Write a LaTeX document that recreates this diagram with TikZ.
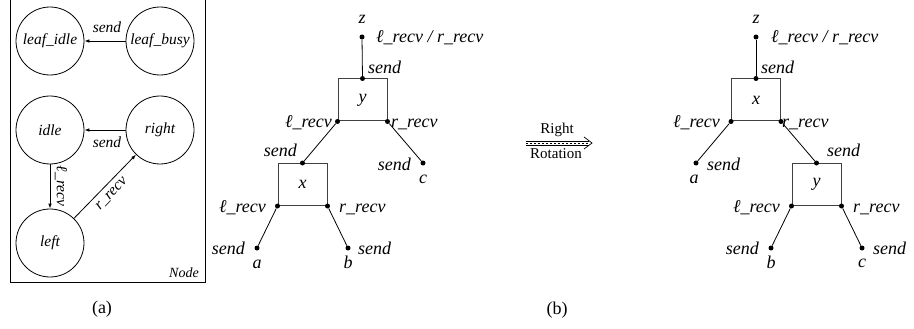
\documentclass[tikz,border=0pt]{standalone}
\usepackage{fontspec}
\setmainfont{Liberation Serif}
\usetikzlibrary{arrows.meta}

\tikzset{
  statetxt/.style={font=\fontsize{15.5}{17}\selectfont\itshape, inner sep=0pt},
  state/.style={circle, draw, line width=0.8pt, minimum size=68pt, inner sep=0pt, statetxt},
  arr/.style={line width=0.8pt, -{Latex[length=5pt,width=3.6pt]}},
  lbl/.style={font=\fontsize{18}{20}\selectfont\itshape, inner sep=0pt},
  tnode/.style={draw=black!75, line width=1pt, minimum width=49pt, minimum height=42pt,
                inner sep=0pt, lbl},
  dot/.style={circle, fill, inner sep=0pt, minimum size=5pt},
  edge/.style={line width=0.8pt},
  caption/.style={font=\fontsize{18}{20}\selectfont, inner sep=0pt},
  rot/.style={font=\fontsize{15}{17}\selectfont, inner sep=0pt},
}

\begin{document}
\begin{tikzpicture}[x=1pt, y=-1pt]
\useasboundingbox (0,0) rectangle (914,329);

% ---------- (a) state machine of a node ----------
\draw[line width=0.8pt] (10,-5) rectangle (205,282);
\node[state] (lidle) at (50,41)  {leaf\_idle};
\node[state] (lbusy) at (160,41) {leaf\_busy};
\node[state] (idle)  at (50,130) {idle};
\node[state] (right) at (160,130){right};
\node[state] (left)  at (50,243) {left};

\draw[arr] (lbusy) -- (lidle);
\draw[arr] (right) -- (idle);
\draw[arr] (idle) -- (left);
\draw[arr] (left) -- (right);

\node[statetxt, anchor=base] (s1) at (107,33) {send};
\node[statetxt, anchor=base] (s2) at (107,147) {send};
\node[statetxt, rotate=-90] (lr) at (61,186) {ℓ\_recv};
\node[statetxt, rotate=46] (rr) at (112,194) {r\_recv};
\node[statetxt, anchor=base east, font=\fontsize{14}{16}\selectfont\itshape] (nd) at (199,277) {Node};
\node[caption, anchor=base] (capa) at (102,313) {(a)};

% ---------- (b) left tree ----------
\node[lbl] (zA) at (362,19) {z};
\node[dot] (zdA) at (362,37) {};
\node[lbl, anchor=base west] (zlA) at (376,43) {ℓ\_recv / r\_recv};
\node[tnode] (yA) at (362.5,100) {y};
\node[dot] (ytA) at (yA.north) {};
\node[dot] (ylA) at (yA.south west) {};
\node[dot] (yrA) at (yA.south east) {};
\draw[edge] (zdA) -- (ytA);
\node[lbl, anchor=base west] at (368,74) {send};
\node[lbl, anchor=base east] at (332,128) {ℓ\_recv};
\node[lbl, anchor=base west] at (391,128) {r\_recv};

\node[tnode] (xA) at (302.5,184.5) {x};
\node[dot] (xtA) at (xA.north) {};
\node[dot] (xlA) at (xA.south west) {};
\node[dot] (xrA) at (xA.south east) {};
\node[dot] (cA) at (423,163) {};
\draw[edge] (ylA) -- (xtA);
\draw[edge] (yrA) -- (cA);
\node[lbl, anchor=base east] at (297,157) {send};
\node[lbl, anchor=base east] at (411,170) {send};
\node[lbl, anchor=base] at (423,183) {c};
\node[lbl, anchor=base east] at (266,212) {ℓ\_recv};
\node[lbl, anchor=base west] at (339,212) {r\_recv};

\node[dot] (aA) at (257,248) {};
\node[dot] (bA) at (348,248) {};
\draw[edge] (xlA) -- (aA);
\draw[edge] (xrA) -- (bA);
\node[lbl, anchor=base east] at (245,254) {send};
\node[lbl, anchor=base west] at (358,254) {send};
\node[lbl, anchor=base] at (257,268) {a};
\node[lbl, anchor=base] at (348,268) {b};

% ---------- rotation arrow ----------
\coordinate (r0) at (526,143);
\coordinate (r1) at (592,143);
\draw[line width=0.6pt] ([yshift=-2pt]r0) -- ([xshift=-3pt,yshift=-2pt]r1);
\draw[line width=0.6pt] ([yshift=2pt]r0) -- ([xshift=-3pt,yshift=2pt]r1);
\draw[line width=0.5pt, dash pattern=on 2pt off 2pt] (r0) -- ([xshift=-4pt]r1);
\draw[line width=0.7pt] ([xshift=-8pt,yshift=-6pt]r1) -- (r1) -- ([xshift=-8pt,yshift=6pt]r1);
\node[rot, anchor=base] (rtop) at (557,134) {Right};
\node[rot, anchor=base] (rbot) at (556,158) {Rotation};
\node[caption, anchor=base] (capb) at (557,314) {(b)};

% ---------- (b) right tree ----------
\node[lbl] (zB) at (756,19) {z};
\node[dot] (zdB) at (756,37) {};
\node[lbl, anchor=base west] (zlB) at (771,43) {ℓ\_recv / r\_recv};
\node[tnode] (xB) at (756,100) {x};
\node[dot] (xtB) at (xB.north) {};
\node[dot] (xlB) at (xB.south west) {};
\node[dot] (xrB) at (xB.south east) {};
\draw[edge] (zdB) -- (xtB);
\node[lbl, anchor=base west] at (761,74) {send};
\node[lbl, anchor=base east] at (720,128) {ℓ\_recv};
\node[lbl, anchor=base west] at (782,128) {r\_recv};

\node[dot] (aB) at (696,163) {};
\node[tnode] (yB) at (816.5,184.5) {y};
\node[dot] (ytB) at (yB.north) {};
\node[dot] (ylB) at (yB.south west) {};
\node[dot] (yrB) at (yB.south east) {};
\draw[edge] (xlB) -- (aB);
\draw[edge] (xrB) -- (ytB);
\node[lbl, anchor=base west] at (707,170) {send};
\node[lbl, anchor=base] at (694,183) {a};
\node[lbl, anchor=base west] at (827,157) {send};
\node[lbl, anchor=base east] at (780,212) {ℓ\_recv};
\node[lbl, anchor=base west] at (853,212) {r\_recv};

\node[dot] (bB) at (771,248) {};
\node[dot] (cB) at (862,248) {};
\draw[edge] (ylB) -- (bB);
\draw[edge] (yrB) -- (cB);
\node[lbl, anchor=base east] at (759,254) {send};
\node[lbl, anchor=base west] at (873,254) {send};
\node[lbl, anchor=base] at (771,268) {b};
\node[lbl, anchor=base] at (862,267) {c};
\end{tikzpicture}
\end{document}
